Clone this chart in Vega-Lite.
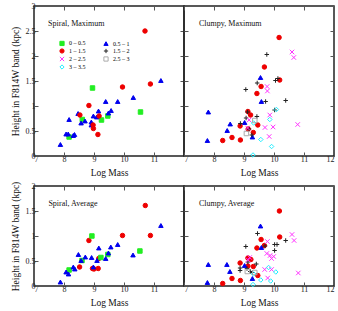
{
  "$schema": "https://vega.github.io/schema/vega-lite/v6.json",
  "padding": {"left": 9, "top": 1, "right": 5, "bottom": 2},
  "config": {
    "view": {"stroke": "#222", "strokeWidth": 1.5},
    "font": "Liberation Serif",
    "legend": {"symbolSize": 18, "labelFontSize": 6},
    "axis": {"grid": false, "domain": false, "tickSize": -4, "tickColor": "#555", "tickWidth": 1,
      "labelFont": "Liberation Serif", "labelFontSize": 8, "labelColor": "#222",
      "titleFont": "Liberation Serif", "titleFontSize": 9.5, "titleFontWeight": "normal", "titleColor": "#111",
      "labelPadding": 3},
    "axisX": {"titlePadding": 4},
    "axisY": {"titlePadding": 5}
  },
  "datasets": {
    "sm": [
      {"m": 8.95, "h": 1.36, "z": "0 – 0.5"}, {"m": 8.61, "h": 0.73, "z": "0 – 0.5"}, {"m": 9.25, "h": 0.72, "z": "0 – 0.5"}, {"m": 9.46, "h": 0.8, "z": "0 – 0.5"}, {"m": 10.55, "h": 0.88, "z": "0 – 0.5"}, {"m": 8.17, "h": 0.38, "z": "0 – 0.5"},
      {"m": 11.23, "h": 1.51, "z": "0.5 – 1"}, {"m": 10.31, "h": 1.17, "z": "0.5 – 1"}, {"m": 9.79, "h": 1.09, "z": "0.5 – 1"}, {"m": 9.39, "h": 1.09, "z": "0.5 – 1"}, {"m": 9.15, "h": 0.9, "z": "0.5 – 1"}, {"m": 9.57, "h": 0.91, "z": "0.5 – 1"}, {"m": 9.48, "h": 0.86, "z": "0.5 – 1"}, {"m": 8.47, "h": 0.85, "z": "0.5 – 1"}, {"m": 8.98, "h": 0.8, "z": "0.5 – 1"}, {"m": 9.09, "h": 0.78, "z": "0.5 – 1"}, {"m": 8.7, "h": 0.7, "z": "0.5 – 1"}, {"m": 8.57, "h": 0.66, "z": "0.5 – 1"}, {"m": 8.91, "h": 0.68, "z": "0.5 – 1"}, {"m": 8.91, "h": 0.62, "z": "0.5 – 1"}, {"m": 8.17, "h": 0.73, "z": "0.5 – 1"}, {"m": 8.07, "h": 0.44, "z": "0.5 – 1"}, {"m": 8.14, "h": 0.44, "z": "0.5 – 1"}, {"m": 8.35, "h": 0.43, "z": "0.5 – 1"}, {"m": 8.31, "h": 0.41, "z": "0.5 – 1"}, {"m": 7.88, "h": 0.23, "z": "0.5 – 1"},
      {"m": 10.7, "h": 2.5, "z": "1 – 1.5"}, {"m": 10.88, "h": 1.44, "z": "1 – 1.5"}, {"m": 9.95, "h": 1.38, "z": "1 – 1.5"}, {"m": 8.83, "h": 1.01, "z": "1 – 1.5"}, {"m": 8.53, "h": 0.82, "z": "1 – 1.5"}, {"m": 9.17, "h": 0.8, "z": "1 – 1.5"}, {"m": 8.98, "h": 0.55, "z": "1 – 1.5"}, {"m": 9.13, "h": 0.43, "z": "1 – 1.5"}, {"m": 8.97, "h": 0.62, "z": "1 – 1.5"}
    ],
    "cm": [
      {"m": 10.17, "h": 2.37, "z": "1 – 1.5"}, {"m": 9.68, "h": 1.78, "z": "1 – 1.5"}, {"m": 9.57, "h": 1.39, "z": "1 – 1.5"}, {"m": 10.19, "h": 1.52, "z": "1 – 1.5"}, {"m": 9.43, "h": 1.25, "z": "1 – 1.5"}, {"m": 9.13, "h": 0.89, "z": "1 – 1.5"}, {"m": 9.22, "h": 0.82, "z": "1 – 1.5"}, {"m": 9.46, "h": 0.62, "z": "1 – 1.5"}, {"m": 8.87, "h": 0.6, "z": "1 – 1.5"}, {"m": 9.14, "h": 0.54, "z": "1 – 1.5"}, {"m": 9.31, "h": 0.47, "z": "1 – 1.5"}, {"m": 8.6, "h": 0.37, "z": "1 – 1.5"}, {"m": 8.29, "h": 0.31, "z": "1 – 1.5"}, {"m": 8.88, "h": 0.32, "z": "1 – 1.5"},
      {"m": 7.81, "h": 0.88, "z": "0.5 – 1"}, {"m": 9.55, "h": 1.57, "z": "0.5 – 1"}, {"m": 9.58, "h": 1.09, "z": "0.5 – 1"}, {"m": 8.54, "h": 0.64, "z": "0.5 – 1"}, {"m": 8.44, "h": 0.51, "z": "0.5 – 1"}, {"m": 7.78, "h": 0.31, "z": "0.5 – 1"}, {"m": 9.02, "h": 0.67, "z": "0.5 – 1"}, {"m": 9.28, "h": 0.38, "z": "0.5 – 1"},
      {"m": 9.76, "h": 2.03, "z": "1.5 – 2"}, {"m": 10.13, "h": 1.55, "z": "1.5 – 2"}, {"m": 10.05, "h": 1.51, "z": "1.5 – 2"}, {"m": 9.44, "h": 1.46, "z": "1.5 – 2"}, {"m": 9.06, "h": 1.33, "z": "1.5 – 2"}, {"m": 10.39, "h": 1.11, "z": "1.5 – 2"}, {"m": 10.02, "h": 0.92, "z": "1.5 – 2"}, {"m": 9.12, "h": 0.88, "z": "1.5 – 2"}, {"m": 9.07, "h": 0.76, "z": "1.5 – 2"}, {"m": 9.43, "h": 0.79, "z": "1.5 – 2"}, {"m": 8.88, "h": 0.65, "z": "1.5 – 2"}, {"m": 9.17, "h": 0.54, "z": "1.5 – 2"}, {"m": 9.26, "h": 0.42, "z": "1.5 – 2"}, {"m": 9.72, "h": 1.09, "z": "1.5 – 2"},
      {"m": 10.6, "h": 2.08, "z": "2 – 2.5"}, {"m": 10.66, "h": 1.97, "z": "2 – 2.5"}, {"m": 9.77, "h": 1.39, "z": "2 – 2.5"}, {"m": 9.78, "h": 1.3, "z": "2 – 2.5"}, {"m": 9.86, "h": 0.82, "z": "2 – 2.5"}, {"m": 9.17, "h": 0.72, "z": "2 – 2.5"}, {"m": 9.7, "h": 0.57, "z": "2 – 2.5"}, {"m": 9.97, "h": 0.58, "z": "2 – 2.5"}, {"m": 10.79, "h": 0.63, "z": "2 – 2.5"}, {"m": 9.84, "h": 0.39, "z": "2 – 2.5"}, {"m": 9.12, "h": 0.56, "z": "2 – 2.5"},
      {"m": 10.08, "h": 0.93, "z": "3 – 3.5"}, {"m": 9.86, "h": 0.73, "z": "3 – 3.5"}, {"m": 9.32, "h": 0.66, "z": "3 – 3.5"}, {"m": 9.56, "h": 0.33, "z": "3 – 3.5"}, {"m": 9.92, "h": 0.19, "z": "3 – 3.5"}, {"m": 9.3, "h": 0.02, "z": "3 – 3.5"},
      {"m": 9.36, "h": 0.71, "z": "2.5 – 3"}, {"m": 9.08, "h": 0.45, "z": "2.5 – 3"}
    ],
    "sa": [
      {"m": 10.71, "h": 1.61, "z": "1 – 1.5"}, {"m": 10.88, "h": 1.01, "z": "1 – 1.5"}, {"m": 9.95, "h": 1.01, "z": "1 – 1.5"}, {"m": 8.83, "h": 0.91, "z": "1 – 1.5"}, {"m": 8.52, "h": 0.38, "z": "1 – 1.5"}, {"m": 8.95, "h": 0.35, "z": "1 – 1.5"}, {"m": 9.0, "h": 0.34, "z": "1 – 1.5"}, {"m": 9.14, "h": 0.35, "z": "1 – 1.5"}, {"m": 9.16, "h": 0.55, "z": "1 – 1.5"},
      {"m": 8.93, "h": 1.0, "z": "0 – 0.5"}, {"m": 10.53, "h": 0.7, "z": "0 – 0.5"}, {"m": 9.23, "h": 0.57, "z": "0 – 0.5"}, {"m": 9.46, "h": 0.63, "z": "0 – 0.5"}, {"m": 8.6, "h": 0.51, "z": "0 – 0.5"}, {"m": 8.17, "h": 0.32, "z": "0 – 0.5"},
      {"m": 11.23, "h": 1.21, "z": "0.5 – 1"}, {"m": 9.79, "h": 0.83, "z": "0.5 – 1"}, {"m": 9.56, "h": 0.78, "z": "0.5 – 1"}, {"m": 9.16, "h": 0.76, "z": "0.5 – 1"}, {"m": 10.3, "h": 0.62, "z": "0.5 – 1"}, {"m": 9.48, "h": 0.66, "z": "0.5 – 1"}, {"m": 9.39, "h": 0.55, "z": "0.5 – 1"}, {"m": 9.1, "h": 0.51, "z": "0.5 – 1"}, {"m": 8.92, "h": 0.57, "z": "0.5 – 1"}, {"m": 8.98, "h": 0.38, "z": "0.5 – 1"}, {"m": 8.48, "h": 0.63, "z": "0.5 – 1"}, {"m": 8.71, "h": 0.58, "z": "0.5 – 1"}, {"m": 8.57, "h": 0.51, "z": "0.5 – 1"}, {"m": 8.31, "h": 0.38, "z": "0.5 – 1"}, {"m": 8.36, "h": 0.34, "z": "0.5 – 1"}, {"m": 8.07, "h": 0.28, "z": "0.5 – 1"}, {"m": 8.15, "h": 0.24, "z": "0.5 – 1"}, {"m": 7.88, "h": 0.08, "z": "0.5 – 1"}
    ],
    "ca": [
      {"m": 10.18, "h": 1.5, "z": "1 – 1.5"}, {"m": 10.19, "h": 0.98, "z": "1 – 1.5"}, {"m": 9.57, "h": 0.93, "z": "1 – 1.5"}, {"m": 9.68, "h": 0.81, "z": "1 – 1.5"}, {"m": 9.43, "h": 0.76, "z": "1 – 1.5"}, {"m": 9.13, "h": 0.56, "z": "1 – 1.5"}, {"m": 9.23, "h": 0.53, "z": "1 – 1.5"}, {"m": 9.31, "h": 0.39, "z": "1 – 1.5"}, {"m": 8.87, "h": 0.46, "z": "1 – 1.5"}, {"m": 9.13, "h": 0.4, "z": "1 – 1.5"}, {"m": 9.46, "h": 0.21, "z": "1 – 1.5"}, {"m": 8.6, "h": 0.15, "z": "1 – 1.5"}, {"m": 8.88, "h": 0.11, "z": "1 – 1.5"}, {"m": 8.29, "h": 0.05, "z": "1 – 1.5"},
      {"m": 9.55, "h": 1.2, "z": "0.5 – 1"}, {"m": 9.58, "h": 0.77, "z": "0.5 – 1"}, {"m": 7.81, "h": 0.43, "z": "0.5 – 1"}, {"m": 8.43, "h": 0.43, "z": "0.5 – 1"}, {"m": 8.53, "h": 0.29, "z": "0.5 – 1"}, {"m": 9.02, "h": 0.41, "z": "0.5 – 1"}, {"m": 9.28, "h": 0.15, "z": "0.5 – 1"}, {"m": 7.78, "h": 0.07, "z": "0.5 – 1"},
      {"m": 9.45, "h": 1.05, "z": "1.5 – 2"}, {"m": 9.06, "h": 0.79, "z": "1.5 – 2"}, {"m": 10.1, "h": 0.83, "z": "1.5 – 2"}, {"m": 10.02, "h": 0.83, "z": "1.5 – 2"}, {"m": 10.39, "h": 0.91, "z": "1.5 – 2"}, {"m": 10.02, "h": 0.71, "z": "1.5 – 2"}, {"m": 9.7, "h": 0.8, "z": "1.5 – 2"}, {"m": 9.13, "h": 0.48, "z": "1.5 – 2"}, {"m": 9.41, "h": 0.44, "z": "1.5 – 2"}, {"m": 8.87, "h": 0.36, "z": "1.5 – 2"}, {"m": 8.87, "h": 0.31, "z": "1.5 – 2"}, {"m": 9.1, "h": 0.35, "z": "1.5 – 2"}, {"m": 9.21, "h": 0.29, "z": "1.5 – 2"}, {"m": 9.28, "h": 0.27, "z": "1.5 – 2"},
      {"m": 9.78, "h": 0.89, "z": "2 – 2.5"}, {"m": 10.6, "h": 1.03, "z": "2 – 2.5"}, {"m": 10.67, "h": 0.91, "z": "2 – 2.5"}, {"m": 9.76, "h": 0.65, "z": "2 – 2.5"}, {"m": 9.87, "h": 0.61, "z": "2 – 2.5"}, {"m": 9.99, "h": 0.59, "z": "2 – 2.5"}, {"m": 9.92, "h": 0.55, "z": "2 – 2.5"}, {"m": 9.19, "h": 0.57, "z": "2 – 2.5"}, {"m": 9.69, "h": 0.33, "z": "2 – 2.5"}, {"m": 9.92, "h": 0.33, "z": "2 – 2.5"}, {"m": 9.79, "h": 0.16, "z": "2 – 2.5"}, {"m": 10.81, "h": 0.26, "z": "2 – 2.5"}, {"m": 9.14, "h": 0.52, "z": "2 – 2.5"},
      {"m": 9.82, "h": 0.37, "z": "3 – 3.5"}, {"m": 10.06, "h": 0.28, "z": "3 – 3.5"}, {"m": 9.32, "h": 0.24, "z": "3 – 3.5"}, {"m": 9.56, "h": 0.12, "z": "3 – 3.5"}, {"m": 9.89, "h": 0.1, "z": "3 – 3.5"}, {"m": 9.3, "h": 0.03, "z": "3 – 3.5"},
      {"m": 9.11, "h": 0.29, "z": "2.5 – 3"}, {"m": 9.36, "h": 0.27, "z": "2.5 – 3"}
    ]
  },
  "bounds": "flush",
  "align": "each",
  "columns": 2,
  "spacing": {"row": 30, "column": 0},
  "concat": [
    {
      "width": 150, "height": 150,
      "layer": [
        {
          "data": {"name": "sm"},
          "mark": {"type": "point", "opacity": 1, "strokeWidth": 1, "size": 20},
          "encoding": {
            "x": {"field": "m", "type": "quantitative", "scale": {"domain": [7, 12]}, "axis": {"title": "Log Mass", "values": [7, 8, 9, 10, 11, 12], "format": "~g", "labelExpr": "datum.value == 12 ? '' : datum.label"}},
            "y": {"field": "h", "type": "quantitative", "scale": {"domain": [0, 3]}, "axis": {"title": "Height in F814W band (kpc)", "values": [0, 0.5, 1, 1.5, 2, 2.5, 3], "format": "~g"}},
            "shape": {"field": "z", "type": "nominal", "scale": {"domain": ["0 – 0.5", "0.5 – 1", "1 – 1.5", "1.5 – 2", "2 – 2.5", "2.5 – 3", "3 – 3.5"], "range": ["square", "triangle-up", "circle", "M-1,0L1,0M0,-1L0,1", "M-1,-1L1,1M1,-1L-1,1", "square", "diamond"]},
              "legend": {"orient": "none", "legendX": 25, "legendY": 34, "direction": "horizontal", "columns": 2, "title": null, "labelFontSize": 6, "labelFont": "Liberation Serif", "symbolSize": 18, "symbolStrokeWidth": 1, "columnPadding": 15, "rowPadding": -2.5, "labelOffset": 4, "padding": 0}},
            "fill": {"field": "z", "type": "nominal", "scale": {"domain": ["0 – 0.5", "0.5 – 1", "1 – 1.5", "1.5 – 2", "2 – 2.5", "2.5 – 3", "3 – 3.5"], "range": ["#22ee22", "#0000ee", "#ee0000", "transparent", "transparent", "transparent", "transparent"]},
              "legend": {"orient": "none", "legendX": 25, "legendY": 34, "direction": "horizontal", "columns": 2, "title": null, "labelFontSize": 6, "labelFont": "Liberation Serif", "symbolSize": 18, "symbolStrokeWidth": 1, "columnPadding": 15, "rowPadding": -2.5, "labelOffset": 4, "padding": 0}},
            "stroke": {"field": "z", "type": "nominal", "scale": {"domain": ["0 – 0.5", "0.5 – 1", "1 – 1.5", "1.5 – 2", "2 – 2.5", "2.5 – 3", "3 – 3.5"], "range": ["#22ee22", "#0000ee", "#ee0000", "#222222", "#ff33ff", "#aaaaaa", "#22eeff"]},
              "legend": {"orient": "none", "legendX": 25, "legendY": 34, "direction": "horizontal", "columns": 2, "title": null, "labelFontSize": 6, "labelFont": "Liberation Serif", "symbolSize": 18, "symbolStrokeWidth": 1, "columnPadding": 15, "rowPadding": -2.5, "labelOffset": 4, "padding": 0}}
          }
        },
        {
          "data": {"values": [{"label": "Spiral, Maximum"}]},
          "mark": {"type": "text", "align": "left", "baseline": "middle", "fontSize": 8, "font": "Liberation Serif", "color": "#111"},
          "encoding": {
            "text": {"field": "label"},
            "x": {"datum": 7.47, "type": "quantitative", "scale": {"domain": [7, 12]}, "axis": {"orient": "top", "title": null, "labels": false, "values": [7, 8, 9, 10, 11, 12]}},
            "y": {"datum": 2.65, "type": "quantitative", "scale": {"domain": [0, 3]}, "axis": {"orient": "right", "title": null, "labels": false, "values": [0, 0.5, 1, 1.5, 2, 2.5, 3]}}
          }
        }
      ],
      "resolve": {"axis": {"x": "independent", "y": "independent"}}
    },
    {
      "width": 150, "height": 150,
      "layer": [
        {
          "data": {"name": "cm"},
          "mark": {"type": "point", "opacity": 1, "strokeWidth": 1, "size": 20},
          "encoding": {
            "x": {"field": "m", "type": "quantitative", "scale": {"domain": [7, 12]}, "axis": {"title": "Log Mass", "values": [7, 8, 9, 10, 11, 12], "format": "~g"}},
            "y": {"field": "h", "type": "quantitative", "scale": {"domain": [0, 3]}, "axis": {"title": null, "labels": false, "values": [0, 0.5, 1, 1.5, 2, 2.5, 3]}},
            "shape": {"field": "z", "type": "nominal", "scale": {"domain": ["0 – 0.5", "0.5 – 1", "1 – 1.5", "1.5 – 2", "2 – 2.5", "2.5 – 3", "3 – 3.5"], "range": ["square", "triangle-up", "circle", "M-1,0L1,0M0,-1L0,1", "M-1,-1L1,1M1,-1L-1,1", "square", "diamond"]}, "legend": null},
            "fill": {"field": "z", "type": "nominal", "scale": {"domain": ["0 – 0.5", "0.5 – 1", "1 – 1.5", "1.5 – 2", "2 – 2.5", "2.5 – 3", "3 – 3.5"], "range": ["#22ee22", "#0000ee", "#ee0000", "transparent", "transparent", "transparent", "transparent"]}, "legend": null},
            "stroke": {"field": "z", "type": "nominal", "scale": {"domain": ["0 – 0.5", "0.5 – 1", "1 – 1.5", "1.5 – 2", "2 – 2.5", "2.5 – 3", "3 – 3.5"], "range": ["#22ee22", "#0000ee", "#ee0000", "#222222", "#ff33ff", "#aaaaaa", "#22eeff"]}, "legend": null}
          }
        },
        {
          "data": {"values": [{"label": "Clumpy, Maximum"}]},
          "mark": {"type": "text", "align": "left", "baseline": "middle", "fontSize": 8, "font": "Liberation Serif", "color": "#111"},
          "encoding": {
            "text": {"field": "label"},
            "x": {"datum": 7.5, "type": "quantitative", "scale": {"domain": [7, 12]}, "axis": {"orient": "top", "title": null, "labels": false, "values": [7, 8, 9, 10, 11, 12]}},
            "y": {"datum": 2.65, "type": "quantitative", "scale": {"domain": [0, 3]}, "axis": {"orient": "right", "title": null, "labels": false, "values": [0, 0.5, 1, 1.5, 2, 2.5, 3]}}
          }
        }
      ],
      "resolve": {"axis": {"x": "independent", "y": "independent"}}
    },
    {
      "width": 150, "height": 100,
      "layer": [
        {
          "data": {"name": "sa"},
          "mark": {"type": "point", "opacity": 1, "strokeWidth": 1, "size": 20},
          "encoding": {
            "x": {"field": "m", "type": "quantitative", "scale": {"domain": [7, 12]}, "axis": {"title": "Log Mass", "values": [7, 8, 9, 10, 11, 12], "format": "~g", "labelExpr": "datum.value == 12 ? '' : datum.label"}},
            "y": {"field": "h", "type": "quantitative", "scale": {"domain": [0, 2]}, "axis": {"title": "Height in F814W band (kpc)", "values": [0, 0.5, 1, 1.5, 2], "format": "~g"}},
            "shape": {"field": "z", "type": "nominal", "scale": {"domain": ["0 – 0.5", "0.5 – 1", "1 – 1.5", "1.5 – 2", "2 – 2.5", "2.5 – 3", "3 – 3.5"], "range": ["square", "triangle-up", "circle", "M-1,0L1,0M0,-1L0,1", "M-1,-1L1,1M1,-1L-1,1", "square", "diamond"]}, "legend": null},
            "fill": {"field": "z", "type": "nominal", "scale": {"domain": ["0 – 0.5", "0.5 – 1", "1 – 1.5", "1.5 – 2", "2 – 2.5", "2.5 – 3", "3 – 3.5"], "range": ["#22ee22", "#0000ee", "#ee0000", "transparent", "transparent", "transparent", "transparent"]}, "legend": null},
            "stroke": {"field": "z", "type": "nominal", "scale": {"domain": ["0 – 0.5", "0.5 – 1", "1 – 1.5", "1.5 – 2", "2 – 2.5", "2.5 – 3", "3 – 3.5"], "range": ["#22ee22", "#0000ee", "#ee0000", "#222222", "#ff33ff", "#aaaaaa", "#22eeff"]}, "legend": null}
          }
        },
        {
          "data": {"values": [{"label": "Spiral, Average"}]},
          "mark": {"type": "text", "align": "left", "baseline": "middle", "fontSize": 8, "font": "Liberation Serif", "color": "#111"},
          "encoding": {
            "text": {"field": "label"},
            "x": {"datum": 7.48, "type": "quantitative", "scale": {"domain": [7, 12]}, "axis": {"orient": "top", "title": null, "labels": false, "values": [7, 8, 9, 10, 11, 12]}},
            "y": {"datum": 1.65, "type": "quantitative", "scale": {"domain": [0, 2]}, "axis": {"orient": "right", "title": null, "labels": false, "values": [0, 0.5, 1, 1.5, 2]}}
          }
        }
      ],
      "resolve": {"axis": {"x": "independent", "y": "independent"}}
    },
    {
      "width": 150, "height": 100,
      "layer": [
        {
          "data": {"name": "ca"},
          "mark": {"type": "point", "opacity": 1, "strokeWidth": 1, "size": 20},
          "encoding": {
            "x": {"field": "m", "type": "quantitative", "scale": {"domain": [7, 12]}, "axis": {"title": "Log Mass", "values": [7, 8, 9, 10, 11, 12], "format": "~g"}},
            "y": {"field": "h", "type": "quantitative", "scale": {"domain": [0, 2]}, "axis": {"title": null, "labels": false, "values": [0, 0.5, 1, 1.5, 2]}},
            "shape": {"field": "z", "type": "nominal", "scale": {"domain": ["0 – 0.5", "0.5 – 1", "1 – 1.5", "1.5 – 2", "2 – 2.5", "2.5 – 3", "3 – 3.5"], "range": ["square", "triangle-up", "circle", "M-1,0L1,0M0,-1L0,1", "M-1,-1L1,1M1,-1L-1,1", "square", "diamond"]}, "legend": null},
            "fill": {"field": "z", "type": "nominal", "scale": {"domain": ["0 – 0.5", "0.5 – 1", "1 – 1.5", "1.5 – 2", "2 – 2.5", "2.5 – 3", "3 – 3.5"], "range": ["#22ee22", "#0000ee", "#ee0000", "transparent", "transparent", "transparent", "transparent"]}, "legend": null},
            "stroke": {"field": "z", "type": "nominal", "scale": {"domain": ["0 – 0.5", "0.5 – 1", "1 – 1.5", "1.5 – 2", "2 – 2.5", "2.5 – 3", "3 – 3.5"], "range": ["#22ee22", "#0000ee", "#ee0000", "#222222", "#ff33ff", "#aaaaaa", "#22eeff"]}, "legend": null}
          }
        },
        {
          "data": {"values": [{"label": "Clumpy, Average"}]},
          "mark": {"type": "text", "align": "left", "baseline": "middle", "fontSize": 8, "font": "Liberation Serif", "color": "#111"},
          "encoding": {
            "text": {"field": "label"},
            "x": {"datum": 7.5, "type": "quantitative", "scale": {"domain": [7, 12]}, "axis": {"orient": "top", "title": null, "labels": false, "values": [7, 8, 9, 10, 11, 12]}},
            "y": {"datum": 1.65, "type": "quantitative", "scale": {"domain": [0, 2]}, "axis": {"orient": "right", "title": null, "labels": false, "values": [0, 0.5, 1, 1.5, 2]}}
          }
        }
      ],
      "resolve": {"axis": {"x": "independent", "y": "independent"}}
    }
  ]
}
